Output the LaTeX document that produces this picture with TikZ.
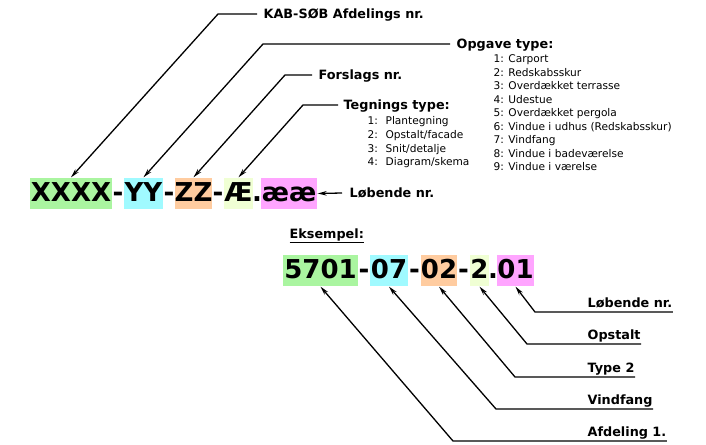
\documentclass[tikz,border=0pt]{standalone}
\usepackage{fontspec}
\setmainfont{DejaVu Sans}
\usetikzlibrary{arrows.meta}
\definecolor{codegreen}{RGB}{170,245,160}
\definecolor{codecyan}{RGB}{160,250,255}
\definecolor{codeorange}{RGB}{255,204,160}
\definecolor{codeyellow}{RGB}{240,255,212}
\definecolor{codepink}{RGB}{255,165,255}

\begin{document}
\begin{tikzpicture}[x=1pt,y=-1pt,>={Stealth[length=9pt,width=4.5pt]},line width=1.3pt]
\tikzstyle{every node}=[inner sep=0pt]
\tikzstyle{code}=[font=\fontsize{26}{26}\selectfont\bfseries, text height=19pt, text depth=4pt, inner ysep=4pt]
\tikzstyle{toptag}=[font=\fontsize{12.8}{14}\selectfont\bfseries, anchor=west, inner xsep=6pt, text height=9pt, text depth=0pt]
\tikzstyle{bottag}=[font=\fontsize{12.8}{14}\selectfont\bfseries, anchor=south west, inner ysep=3.5pt, text height=9pt, text depth=0pt]
\tikzstyle{listitem}=[font=\fontsize{10.6}{12}\selectfont, anchor=west, text height=7.5pt, text depth=0pt]
\useasboundingbox (0,0) rectangle (706,444);
% code pattern
\draw (71,193.5) node (xxxx) [code,fill=codegreen,minimum width=82pt] {XXXX};
\draw (118,193.5) node (d1) [code] {-};
\draw (143.5,193.5) node (yy) [code,fill=codecyan,minimum width=39pt] {YY};
\draw (169,193.5) node (d2) [code] {-};
\draw (193.5,193.5) node (zz) [code,fill=codeorange,minimum width=37pt] {ZZ};
\draw (218,193.5) node (d3) [code] {-};
\draw (238.5,193.5) node (ae) [code,fill=codeyellow,minimum width=29pt] {Æ};
\draw (257,193.5) node (p1) [code] {.};
\draw (289,193.5) node (aeae) [code,fill=codepink,minimum width=56pt] {ææ};
% top tags
\draw (257,14) node (afd) [toptag] {KAB-SØB Afdelings nr.};
\draw (450,44) node (opg) [toptag] {Opgave type:};
\draw (312,75) node (fors) [toptag] {Forslags nr.};
\draw (338,105) node (tegn) [toptag,inner xsep=5pt] {Tegnings type:};
\draw (342,193) node (lob) [toptag,inner xsep=7pt] {Løbende nr.};
\draw[<-] (xxxx.north) -- (218,14) -- (afd.west);
\draw[<-] (yy.north) -- (263,44) -- (opg.west);
\draw[<-] (zz.north) -- (285,75) -- (fors.west);
\draw[<-] (ae.north) -- (303,105) -- (tegn.west);
\draw[<-] (aeae.east) -- (lob.west);
% lists
\foreach \i/\t in {1/Carport,2/Redskabsskur,3/Overdækket terrasse,4/Udestue,5/Overdækket pergola,6/Vindue i udhus (Redskabsskur),7/Vindfang,8/Vindue i badeværelse,9/Vindue i værelse}
  \draw (493,{59+13.5*(\i-1)}) node (opg\i) [listitem] {\i: \t};
\foreach \i/\t in {1/Plantegning,2/{Opstalt/facade},3/{Snit/detalje},4/{Diagram/skema}}
  \draw (367,{121+13.67*(\i-1)}) node (tegn\i) [listitem] {\makebox[18pt][l]{\i:}\t};
% example
\draw (289,236) node (eks) [anchor=west,font=\fontsize{12.8}{14}\selectfont\bfseries] {\underline{Eksempel:}};
\draw (320.5,270.5) node (b5701) [code,fill=codegreen,minimum width=75pt] {5701};
\draw (364,270.5) node (e1) [code] {-};
\draw (389,270.5) node (b07) [code,fill=codecyan,minimum width=38pt] {07};
\draw (414.5,270.5) node (e2) [code] {-};
\draw (439,270.5) node (b02) [code,fill=codeorange,minimum width=36pt] {02};
\draw (463.5,270.5) node (e3) [code] {-};
\draw (479.5,270.5) node (b2) [code,fill=codeyellow,minimum width=19pt] {2};
\draw (493,270.5) node (e4) [code] {.};
\draw (515.5,270.5) node (b01) [code,fill=codepink,minimum width=37pt] {01};
% bottom tags
\draw (587,312) node (lob2) [bottag] {Løbende nr.};
\draw (587,344) node (ops) [bottag] {Opstalt};
\draw (587,377) node (typ) [bottag] {Type 2};
\draw (587,409) node (vind) [bottag] {Vindfang};
\draw (587,441) node (afd1) [bottag] {Afdeling 1.};
\draw[<-] (b01.south) -- (535,312) -- (lob2.south east);
\draw[<-] (b2.south) -- (527,344) -- (ops.south east);
\draw[<-] (b02.south) -- (515,377) -- (typ.south east);
\draw[<-] (b07.south) -- (496,409) -- (vind.south east);
\draw[<-] (b5701.south) -- (453,441) -- (afd1.south east);
\end{tikzpicture}
\end{document}
